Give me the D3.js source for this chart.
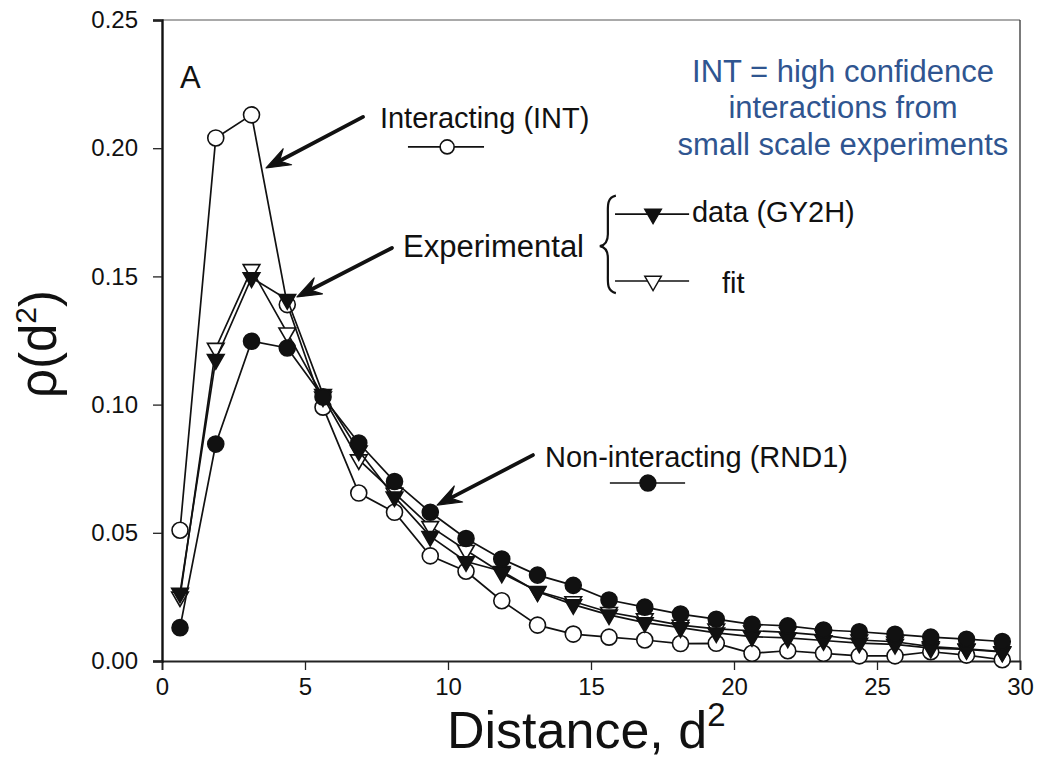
<!DOCTYPE html>
<html>
<head>
<meta charset="utf-8">
<script src="https://cdn.jsdelivr.net/npm/d3@7/dist/d3.min.js"></script>
<style>
  html, body { margin: 0; padding: 0; background: #fff; }
  svg { display: block; }
  text { font-family: "Liberation Sans", Arial, Helvetica, sans-serif; fill: #111; }
</style>
</head>
<body>
<svg id="chart" width="1039" height="760"></svg>
<script>
// ---------------- DATA ----------------
const distance = [0.63, 1.88, 3.13, 4.38, 5.63, 6.88, 8.13, 9.38, 10.63, 11.88, 13.13, 14.38,
                  15.63, 16.88, 18.13, 19.38, 20.63, 21.88, 23.13, 24.38, 25.63, 26.88, 28.13, 29.38];
const interactingINT = [0.051, 0.204, 0.213, 0.139, 0.099, 0.0655, 0.058, 0.041, 0.035, 0.0235, 0.014, 0.0105,
                        0.0093, 0.0082, 0.0068, 0.0069, 0.003, 0.004, 0.003, 0.002, 0.002, 0.0036, 0.0023, 0.0005];
const fitValues = [0.025, 0.122, 0.1527, 0.128, 0.103, 0.0785, 0.0655, 0.0525, 0.0432, 0.0343, 0.0272, 0.0232,
                   0.019, 0.0165, 0.014, 0.0125, 0.0118, 0.0112, 0.0100, 0.0082, 0.0075, 0.0056, 0.0047, 0.0037];
const dataGY2H = [0.0265, 0.1176, 0.1495, 0.141, 0.104, 0.082, 0.064, 0.0486, 0.0388, 0.035, 0.027, 0.022,
                  0.018, 0.015, 0.013, 0.011, 0.0095, 0.009, 0.008, 0.007, 0.0065, 0.005, 0.0045, 0.0035];
const nonInteractingRND1 = [0.013, 0.0846, 0.1247, 0.1221, 0.103, 0.085, 0.070, 0.058, 0.0478, 0.0398, 0.0335, 0.0295,
                            0.0238, 0.021, 0.0183, 0.0163, 0.0143, 0.0137, 0.0121, 0.0114, 0.0104, 0.0093, 0.0085, 0.0076];
const xTicks = [0, 5, 10, 15, 20, 25, 30];
const yTicks = [0, 0.05, 0.10, 0.15, 0.20, 0.25];
const yTickLabels = ["0.00", "0.05", "0.10", "0.15", "0.20", "0.25"];
const noteLines = ["INT = high confidence", "interactions from", "small scale experiments"];

// ---------------- LAYOUT ----------------
const svg = d3.select("#chart");
const x = d3.scaleLinear().domain([0, 30]).range([162, 1020]);
const y = d3.scaleLinear().domain([0, 0.25]).range([661, 20]);
const FONT = '"Liberation Sans", Arial, Helvetica, sans-serif';

// frame (top & right thin)
svg.append("line").attr("x1", x(0)).attr("x2", x(30)).attr("y1", y(0.25)).attr("y2", y(0.25))
  .attr("stroke", "#555").attr("stroke-width", 1);
svg.append("line").attr("x1", x(30)).attr("x2", x(30)).attr("y1", y(0.25)).attr("y2", y(0))
  .attr("stroke", "#333").attr("stroke-width", 1.3);

// axes
const xAxis = d3.axisBottom(x).tickValues(xTicks).tickFormat(d3.format("d")).tickSize(9).tickPadding(8);
const yAxis = d3.axisLeft(y).tickValues(yTicks).tickFormat((d, i) => yTickLabels[i]).tickSize(9).tickPadding(15);

const gx = svg.append("g").attr("transform", `translate(0,${y(0)})`).call(xAxis);
gx.select(".domain").attr("stroke", "#222").attr("stroke-width", 1.8);
gx.selectAll(".tick line").attr("stroke", "#222").attr("stroke-width", 1.3);
gx.selectAll(".tick text").attr("font-size", 24).attr("font-family", FONT).attr("fill", "#111");

const gy = svg.append("g").attr("transform", `translate(${x(0)},0)`).call(yAxis);
gy.select(".domain").attr("stroke", "#111").attr("stroke-width", 2.4);
gy.selectAll(".tick line").attr("stroke", "#222").attr("stroke-width", 1.3);
gy.selectAll(".tick text").attr("font-size", 24).attr("font-family", FONT).attr("fill", "#111");

// axis titles
const xt = svg.append("text").attr("x", 447).attr("y", 748).attr("font-size", 52);
xt.append("tspan").text("Distance, d");
xt.append("tspan").attr("font-size", 33).attr("dy", -22).text("2");

const yt = svg.append("text").attr("transform", "translate(56,398) rotate(-90)").attr("font-size", 51);
yt.append("tspan").text("ρ(d");
yt.append("tspan").attr("font-size", 30).attr("dy", -20).text("2");
yt.append("tspan").attr("dy", 20).text(")");

// panel label
svg.append("text").attr("x", x(0.63)).attr("y", y(0.2235)).attr("font-size", 31).text("A");

// ---------------- SERIES ----------------
const line = d3.line().x((d, i) => x(distance[i])).y(d => y(d));
const triPath = d3.symbol().type(d3.symbolTriangle).size(120)();

function drawSeries(values, marker, fill) {
  const g = svg.append("g");
  g.append("path").datum(values).attr("d", line)
    .attr("fill", "none").attr("stroke", "#111").attr("stroke-width", 1.7);
  if (marker === "circle") {
    g.selectAll("circle").data(values).join("circle")
      .attr("cx", (d, i) => x(distance[i])).attr("cy", d => y(d)).attr("r", 8)
      .attr("fill", fill).attr("stroke", "#111").attr("stroke-width", 1.6);
  } else {
    g.selectAll("path.m").data(values).join("path").attr("class", "m")
      .attr("d", triPath)
      .attr("transform", (d, i) => `translate(${x(distance[i])},${y(d)}) rotate(180)`)
      .attr("fill", fill).attr("stroke", "#111").attr("stroke-width", 1.6);
  }
}
drawSeries(interactingINT, "circle", "#fff");
drawSeries(fitValues, "tri", "#fff");
drawSeries(dataGY2H, "tri", "#111");
drawSeries(nonInteractingRND1, "circle", "#111");

// ---------------- ANNOTATIONS ----------------
function arrow(x1, y1, x2, y2) {
  const X1 = x(x1), Y1 = y(y1), X2 = x(x2), Y2 = y(y2);
  const ang = Math.atan2(Y2 - Y1, X2 - X1);
  const L = 24, W = 9, N = 15;
  const bx = X2 - L * Math.cos(ang), by = Y2 - L * Math.sin(ang);
  const nx = X2 - N * Math.cos(ang), ny = Y2 - N * Math.sin(ang);
  const px = -Math.sin(ang), py = Math.cos(ang);
  svg.append("line").attr("x1", X1).attr("y1", Y1).attr("x2", nx).attr("y2", ny)
    .attr("stroke", "#111").attr("stroke-width", 3.8).attr("stroke-linecap", "round");
  svg.append("path")
    .attr("d", `M${X2},${Y2} L${bx + W * px},${by + W * py} L${nx},${ny} L${bx - W * px},${by - W * py} Z`)
    .attr("fill", "#111").attr("stroke", "#111").attr("stroke-width", 1.2).attr("stroke-linejoin", "round");
}
arrow(7.03, 0.2122, 3.64, 0.1923);
arrow(8.04, 0.1611, 4.72, 0.1420);
arrow(12.97, 0.0803, 9.62, 0.0608);

// Interacting label + legend
svg.append("text").attr("x", x(7.62)).attr("y", y(0.2079)).attr("font-size", 29).text("Interacting (INT)");
svg.append("line").attr("x1", x(8.6)).attr("x2", x(11.26)).attr("y1", y(0.2005)).attr("y2", y(0.2005))
  .attr("stroke", "#111").attr("stroke-width", 1.6);
svg.append("circle").attr("cx", x(9.97)).attr("cy", y(0.2005)).attr("r", 7)
  .attr("fill", "#fff").attr("stroke", "#111").attr("stroke-width", 1.6);

// Experimental label + brace + legend
svg.append("text").attr("x", x(8.43)).attr("y", y(0.1576)).attr("font-size", 31).text("Experimental");
const bX = x(15.45), bTop = y(0.1815), bMid = y(0.1618), bBot = y(0.1435);
svg.append("path")
  .attr("d", `M${bX + 12},${bTop} C${bX + 3},${bTop + 2} ${bX + 4},${bTop + 10} ${bX + 4},${bTop + 18}
              L${bX + 4},${bMid - 12} C${bX + 4},${bMid - 4} ${bX + 1},${bMid - 1} ${bX - 4},${bMid}
              C${bX + 1},${bMid + 1} ${bX + 4},${bMid + 4} ${bX + 4},${bMid + 12}
              L${bX + 4},${bBot - 18} C${bX + 4},${bBot - 10} ${bX + 3},${bBot - 2} ${bX + 12},${bBot}`)
  .attr("fill", "none").attr("stroke", "#111").attr("stroke-width", 2.2);

svg.append("line").attr("x1", x(15.84)).attr("x2", x(18.43)).attr("y1", y(0.1743)).attr("y2", y(0.1743))
  .attr("stroke", "#111").attr("stroke-width", 1.6);
svg.append("path").attr("d", triPath)
  .attr("transform", `translate(${x(17.17)},${y(0.1743)}) rotate(180)`)
  .attr("fill", "#111").attr("stroke", "#111").attr("stroke-width", 1.4);
svg.append("text").attr("x", x(18.53)).attr("y", y(0.1712)).attr("font-size", 29).text("data (GY2H)");

svg.append("line").attr("x1", x(15.84)).attr("x2", x(18.43)).attr("y1", y(0.1482)).attr("y2", y(0.1482))
  .attr("stroke", "#111").attr("stroke-width", 1.3);
svg.append("path").attr("d", triPath)
  .attr("transform", `translate(${x(17.17)},${y(0.1482)}) rotate(180)`)
  .attr("fill", "#fff").attr("stroke", "#111").attr("stroke-width", 1.4);
svg.append("text").attr("x", x(19.58)).attr("y", y(0.1435)).attr("font-size", 29).text("fit");

// Non-interacting label + legend
svg.append("text").attr("x", x(13.39)).attr("y", y(0.0757)).attr("font-size", 29).text("Non-interacting (RND1)");
svg.append("line").attr("x1", x(15.66)).attr("x2", x(18.29)).attr("y1", y(0.0694)).attr("y2", y(0.0694))
  .attr("stroke", "#111").attr("stroke-width", 1.4);
svg.append("circle").attr("cx", x(16.99)).attr("cy", y(0.0694)).attr("r", 8)
  .attr("fill", "#111").attr("stroke", "#111").attr("stroke-width", 1.4);

// Blue note
const noteY = [0.2260, 0.2116, 0.1975];
noteLines.forEach((t, i) => {
  svg.append("text").attr("x", x(23.81)).attr("y", y(noteY[i]))
    .attr("text-anchor", "middle").attr("font-size", 31).style("fill", "#2F5590").text(t);
});
</script>
</body>
</html>
